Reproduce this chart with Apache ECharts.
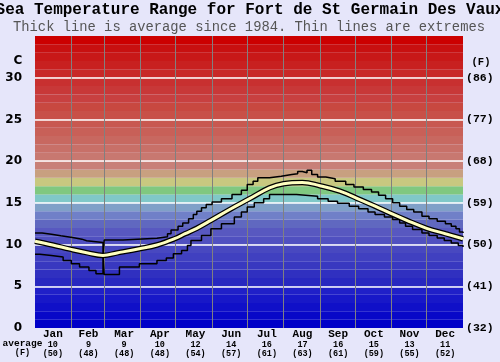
<!DOCTYPE html>
<html><head><meta charset="utf-8">
<script src="https://cdn.jsdelivr.net/npm/echarts@6/dist/echarts.min.js"></script>
<style>html,body{margin:0;padding:0;background:#e6e6fa}#c{width:500px;height:362px}</style>
</head><body><div id="c"></div>
<script>
// ---- data ----
var months = ['Jan','Feb','Mar','Apr','May','Jun','Jul','Aug','Sep','Oct','Nov','Dec'];
var monthAvgC = ['10','9','9','10','12','14','16','17','16','15','13','11'];
var monthAvgF = ['(50)','(48)','(48)','(48)','(54)','(57)','(61)','(63)','(61)','(59)','(55)','(52)'];
var monthStarts = [31,59,90,120,151,181,212,243,273,304,334];
var cTicks = [0,5,10,15,20,25,30];
var fTicks = ['(32)','(41)','(50)','(59)','(68)','(77)','(86)'];

var avgDays = [0,15,30,45,58,70,89,104,119,128,138,150,166,183,200,212,228,243,260,277,290,304,317,334,350,365];
var avgVals = [10.4,9.95,9.45,9.0,8.7,9.0,9.5,9.95,10.7,11.3,11.95,12.9,14.2,15.5,16.8,17.3,17.45,17.05,16.4,15.4,14.6,13.7,12.9,11.95,11.3,10.7];

var maxDays = [0,6,14,22,32,40,44,58,59,75,104,113,116,122,126,131,135,138,142,146,151,159,168,176,181,186,190,200,210,219,224,228,232,236,241,248,256,265,272,280,287,293,299,305,311,317,323,330,336,343,350,355,359,362,365];
var maxVals = [11.4,11.25,11.05,10.85,10.65,10.45,10.25,8.7,10.55,10.75,10.95,11.3,11.75,12.2,12.6,13.1,13.6,14.0,14.4,14.8,15.1,15.5,16.0,16.5,17.2,17.6,18.0,18.2,18.4,18.5,18.75,18.6,18.9,18.4,18.1,17.9,17.6,17.2,16.9,16.6,16.3,15.9,15.5,15.0,14.6,14.2,13.9,13.4,13.1,12.8,12.5,12.2,11.9,11.5,11.4];

var minDays = [0,4,14,24,31,38,46,52,58,59,72,89,104,112,118,125,130,133,142,150,159,170,176,181,187,195,200,223,241,250,258,268,276,284,290,298,305,311,316,322,330,336,343,349,355,361,365];
var minVals = [8.85,8.7,8.5,8.1,7.7,7.3,6.9,6.5,8.7,6.4,7.3,7.7,8.1,8.4,8.9,9.3,9.9,10.5,11.1,11.9,12.5,13.3,13.9,14.5,15.0,15.5,16.0,15.8,15.5,15.2,14.95,14.6,14.3,13.9,13.6,13.3,13.0,12.6,12.2,11.8,11.4,11.1,10.8,10.5,10.2,9.9,9.7];

// ---- styling ----
var bandColors = ['#0000c8','#0808c8','#1010c8','#1818c8','#2020c8','#2828c0','#3030c0','#3838c0','#4040c0','#4848c0',
  '#5050c0','#5858c0','#6068c0','#7080c8','#80a0c8','#80c8c8','#80c880','#c8c880','#c8a080','#c88078',
  '#c87870','#c87068','#c86860','#c86058','#c85850','#c85048','#c84840','#c84040','#c83838','#c83030',
  '#c82828','#c82020','#c81818','#c81010','#cc0000'];

function pairs(d, v){ return d.map(function(x,i){ return [x, v[i]]; }); }

var bands = bandColors.map(function(c,i){ return [{yAxis:i, itemStyle:{color:c}}, {yAxis:i+1}]; });
var hLines = cTicks.filter(function(v){return v>0;}).map(function(v){ return {yAxis:v, lineStyle:{color:'#ffffff', width:1.5, type:'solid'}}; });
var vLines = monthStarts.map(function(d){ return {xAxis:d, lineStyle:{color:'#808080', width:1, type:'solid'}}; });

var chart = echarts.init(document.getElementById('c'), null, {renderer:'canvas'});
var mono = '"Liberation Mono","Courier New",monospace';
chart.setOption({
  animation:false,
  backgroundColor:'#e6e6fa',
  grid:{left:35, right:37, top:36, bottom:34, containLabel:false},
  xAxis:[
    {type:'value', min:0, max:365, show:false},
    {type:'category', data:months, position:'bottom', boundaryGap:true,
     axisLine:{show:false}, axisTick:{show:false}, splitLine:{show:false},
     axisLabel:{margin:1, interval:0,
       formatter:function(v,i){ return '{m|'+v+'}\n{n|'+monthAvgC[i]+'}\n{n|'+monthAvgF[i]+'}'; },
       rich:{m:{fontFamily:mono, fontWeight:'bold', fontSize:11, lineHeight:11, color:'#000'},
             n:{fontFamily:mono, fontWeight:'bold', fontSize:8.5, lineHeight:9.3, color:'#000'}}}}
  ],
  yAxis:[
    {type:'value', min:0, max:35, interval:5, position:'left',
     axisLine:{show:false}, axisTick:{show:false}, splitLine:{show:false},
     axisLabel:{margin:13, fontFamily:'"DejaVu Sans",sans-serif', fontWeight:'bold', fontSize:12, color:'#000',
       formatter:function(v){ return v>30 ? '' : String(v); }}},
    {type:'value', min:0, max:35, interval:5, position:'right',
     axisLine:{show:false}, axisTick:{show:false}, splitLine:{show:false},
     axisLabel:{margin:3, fontFamily:mono, fontWeight:'bold', fontSize:11.5, color:'#000',
       formatter:function(v){ var k=cTicks.indexOf(v); return k<0 ? '' : fTicks[k]; }}}
  ],
  graphic:[
    {type:'text', style:{x:250, y:10, text:'Sea Temperature Range for Fort de St Germain Des Vaux', textAlign:'center', textVerticalAlign:'middle', font:'bold 16px '+mono, fill:'#000'}},
    {type:'text', style:{x:249, y:27, text:'Thick line is average since 1984. Thin lines are extremes', textAlign:'center', textVerticalAlign:'middle', font:'13.8px '+mono, fill:'#555'}},
    {type:'text', style:{x:18, y:61, text:'C', textAlign:'center', textVerticalAlign:'middle', font:'bold 12px "DejaVu Sans",sans-serif', fill:'#000'}},
    {type:'text', style:{x:481, y:62, text:'(F)', textAlign:'center', textVerticalAlign:'middle', font:'bold 10.5px '+mono, fill:'#000'}},
    {type:'text', style:{x:22.5, y:343.5, text:'average', textAlign:'center', textVerticalAlign:'middle', font:'bold 9.5px '+mono, fill:'#000'}},
    {type:'text', style:{x:22.5, y:352.7, text:'(F)', textAlign:'center', textVerticalAlign:'middle', font:'bold 8.5px '+mono, fill:'#000'}}
  ],
  series:[
    {type:'line', xAxisIndex:0, yAxisIndex:0, data:[], z:1, silent:true,
     markArea:{silent:true, data:bands}},
    {type:'line', xAxisIndex:0, yAxisIndex:0, data:[], z:2, silent:true,
     markLine:{silent:true, symbol:['none','none'], label:{show:false}, data:hLines.concat(vLines)}},
    {type:'line', name:'max', xAxisIndex:0, yAxisIndex:0, z:5, step:'end', showSymbol:false, data:pairs(maxDays,maxVals),
     lineStyle:{color:'#000', width:1.5}},
    {type:'line', name:'min', xAxisIndex:0, yAxisIndex:0, z:5, step:'end', showSymbol:false, data:pairs(minDays,minVals),
     lineStyle:{color:'#000', width:1.5}},
    {type:'line', name:'avgOutline', xAxisIndex:0, yAxisIndex:0, z:6, smooth:0.4, showSymbol:false, data:pairs(avgDays,avgVals),
     lineStyle:{color:'#000', width:5.5}},
    {type:'line', name:'avg', xAxisIndex:0, yAxisIndex:0, z:7, smooth:0.4, showSymbol:false, data:pairs(avgDays,avgVals),
     lineStyle:{color:'#ffffc0', width:3}}
  ]
});
</script></body></html>
